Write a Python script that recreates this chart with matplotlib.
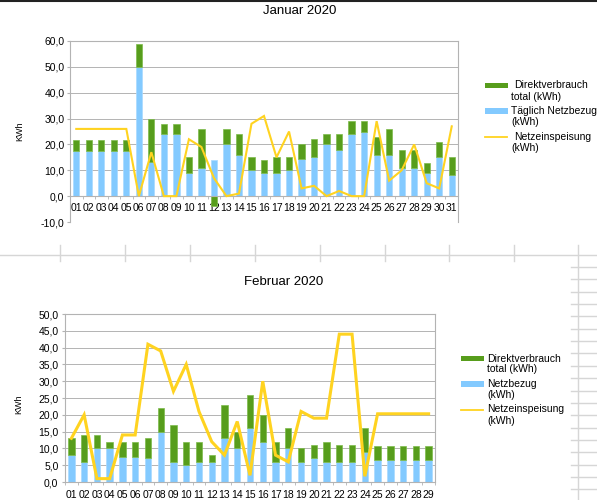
import matplotlib
matplotlib.use('Agg')
import matplotlib.pyplot as plt
from matplotlib.patches import Rectangle
from matplotlib.lines import Line2D
from matplotlib.ticker import FuncFormatter, MultipleLocator
import numpy as np

plt.rcParams['font.family'] = ['Liberation Sans', 'DejaVu Sans']

GRUEN = '#579d1c'
BLAU = '#83caff'
GELB = '#ffd320'
GRAU = '#b3b3b3'
ZELLE = '#d6d6d6'

# --- Januar 2020 ---
jan_tage = ['%02d' % t for t in range(1, 32)]
jan_netzbezug = [17.6, 17.6, 17.6, 17.6, 17.6, 50, 13.3, 24, 24, 9, 11, 14, 20, 16, 10, 9,
                 9, 10, 14.2, 15, 20, 18, 24, 25, 16, 16, 11, 11, 9, 15, 8]
jan_direkt = [4, 4, 4, 4, 4, 9, 16.7, 4, 4, 6, 15, -4, 6, 8, 5, 5,
              6, 5, 5.8, 7, 4, 6, 5, 4, 7, 10, 7, 7, 4, 6, 7]
jan_einspeisung = [26, 26, 26, 26, 26, 0, 17, 0, 0, 22, 19, 7, 0, 1, 28, 31,
                   15, 25, 3, 4, 0, 2, 0, 0, 29, 6, 10, 20, 5, 3, 27]

# --- Februar 2020 ---
feb_tage = ['%02d' % t for t in range(1, 30)]
feb_netzbezug = [8, 6, 10, 10, 7.5, 7.5, 7, 15, 6, 5, 6, 6, 13, 10, 16, 12, 6, 10,
                 6, 7, 6, 6, 6, 9, 6.6, 6.6, 6.6, 6.6, 6.6]
feb_direkt = [5, 8, 4, 2, 4.5, 4.5, 6, 7, 11, 7, 6, 2, 10, 5, 10, 8, 6, 6,
              4, 4, 6, 5, 5, 7, 4.2, 4.2, 4.2, 4.2, 4.2]
feb_einspeisung = [13, 20, 1, 1, 14, 14, 41, 39, 27, 35, 21, 12, 8, 18, 2, 30, 8, 6,
                   21, 19, 19, 44, 44, 1.7, 20.3, 20.3, 20.3, 20.3, 20.3]

W, H = 597, 500
fig = plt.figure(figsize=(W / 100, H / 100), dpi=100)


def fx(px):
    return px / W


def fy(py):
    return 1 - py / H


def komma(v, pos):
    return ('%.1f' % v).replace('.', ',')


def zeichne(ax, tage, netz, direkt, einsp, ymin, ymax, schritt, lw, xpad, ypad):
    x = np.arange(len(tage))
    netz = np.array(netz)
    direkt = np.array(direkt)
    unten = np.where(direkt >= 0, netz, 0)
    ax.bar(x, netz, width=0.5, color=BLAU, edgecolor='#a8d9ff', linewidth=0.5, zorder=2)
    ax.bar(x, direkt, width=0.5, bottom=unten, color=GRUEN, edgecolor='#7dbb4a',
           linewidth=0.5, zorder=2)
    ax.plot(x, einsp, color=GELB, lw=lw, zorder=3, solid_joinstyle='miter')
    ax.set_xlim(-0.5, len(tage) - 0.5)
    ax.set_ylim(ymin, ymax)
    ax.yaxis.set_major_locator(MultipleLocator(schritt))
    ax.yaxis.set_major_formatter(FuncFormatter(komma))
    ax.grid(axis='y', color=GRAU, lw=0.7, zorder=0)
    ax.set_axisbelow(True)
    ax.set_xticks(x)
    ax.set_xticklabels(tage)
    ax.set_xticks(np.arange(len(tage) + 1) - 0.5, minor=True)
    ax.tick_params(axis='x', which='major', length=0, pad=xpad, labelsize=7.5)
    ax.tick_params(axis='x', which='minor', length=2.2, color=GRAU, direction='out')
    ax.tick_params(axis='y', length=2.2, color=GRAU, pad=ypad, labelsize=7.5)
    for s in ax.spines.values():
        s.set_color(GRAU)
        s.set_linewidth(0.8)
    ax.set_ylabel('KWh', fontsize=6.5)


def legende(x0, eintraege):
    # eintraege: (art, farbe, [(text, x, y), ...])
    for art, farbe, zeilen in eintraege:
        y = zeilen[0][2]
        if art == 'balken':
            fig.add_artist(Rectangle((fx(x0), fy(y + 2.8)), fx(23), 5.6 / H,
                                     facecolor=farbe, edgecolor='none'))
        else:
            fig.add_artist(Line2D([fx(x0), fx(x0 + 22)], [fy(y), fy(y)],
                                  color=farbe, lw=1.3))
        for txt, tx, ty in zeilen:
            fig.text(fx(tx), fy(ty), txt, fontsize=7.5, va='center', ha='left')


# Januar
ax1 = fig.add_axes([fx(70), fy(222), fx(458 - 70), (222 - 41) / H])
zeichne(ax1, jan_tage, jan_netzbezug, jan_direkt, jan_einspeisung, -10, 60, 10, 1.5, 5, 1.8)
ax1.spines['bottom'].set_position(('data', 0))
ax1.yaxis.set_label_coords(-0.117, 0.5)
fig.text(fx(300), fy(11), 'Januar 2020', fontsize=9.5, ha='center', va='center')
legende(485, [
    ('balken', GRUEN, [('Direktverbrauch', 514, 85.5), ('total (kWh)', 511, 97)]),
    ('balken', BLAU, [('Täglich Netzbezug', 511, 111), ('(kWh)', 511, 122)]),
    ('linie', GELB, [('Netzeinspeisung', 514, 137), ('(kWh)', 511, 148)]),
])

# Februar
ax2 = fig.add_axes([fx(65), fy(482), fx(435 - 65), (482 - 314) / H])
zeichne(ax2, feb_tage, feb_netzbezug, feb_direkt, feb_einspeisung, 0, 50, 5, 2.2, 6, 2.5)
ax2.yaxis.set_label_coords(-0.112, 0.46)
fig.text(fx(284), fy(282), 'Februar 2020', fontsize=9.5, ha='center', va='center')
legende(461, [
    ('balken', GRUEN, [('Direktverbrauch', 487, 358.5), ('total (kWh)', 487, 369.5)]),
    ('balken', BLAU, [('Netzbezug', 487, 384), ('(kWh)', 487, 395.5)]),
    ('linie', GELB, [('Netzeinspeisung', 487, 409.5), ('(kWh)', 487, 421)]),
])

# Tabellenraster der Tabellenkalkulation
fig.add_artist(Line2D([0, 1], [fy(0.5), fy(0.5)], color='#222222', lw=1.5))
fig.add_artist(Line2D([0, 1], [fy(255), fy(255)], color=ZELLE, lw=1.0))
for sx in [60, 125, 190, 254.7, 319.6, 384.5, 449.4, 514.3]:
    fig.add_artist(Line2D([fx(sx), fx(sx)], [fy(245), fy(261)], color=ZELLE, lw=1.0))
fig.add_artist(Line2D([fx(578), fx(578)], [fy(245), fy(500)], color=ZELLE, lw=1.0))
for k in range(19):
    zy = 267 + 12.35 * k
    fig.add_artist(Line2D([fx(571), 1], [fy(zy), fy(zy)], color=ZELLE, lw=1.0))

fig.savefig('out.png', dpi=100)
